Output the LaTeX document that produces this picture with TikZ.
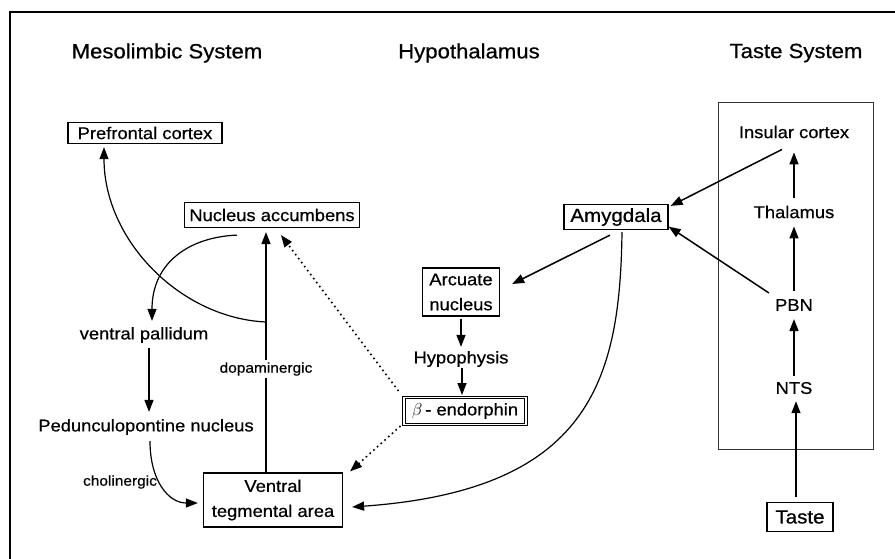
\documentclass[tikz,border=0pt]{standalone}
\usepackage{fontspec}
\setmainfont[FakeStretch=1.08, FakeBold=0.6]{Liberation Sans}
\usetikzlibrary{arrows.meta}
\begin{document}
\begin{tikzpicture}[x=1pt,y=-1pt,
  every node/.style={font=\fontsize{17}{20}\selectfont, inner sep=1pt},
  title/.style={font=\fontsize{20.5}{24}\selectfont},
  big/.style={font=\fontsize{19}{22}\selectfont},
  boxed/.style={draw, line width=1.2pt, inner sep=2pt},
  lbl/.style={font=\fontsize{14.3}{17}\selectfont},
  arr/.style={line width=1.5pt, -{Triangle[length=12pt,width=9pt]}},
  thinarr/.style={line width=1.2pt, -{Triangle[length=12pt,width=9pt]}},
  dotarr/.style={line width=1.6pt, dash pattern=on 1.6pt off 3.4pt, -{Triangle[length=12pt,width=9pt]}}
]
\useasboundingbox (0,0) rectangle (895,558);
\draw[line width=2.8pt] (10,560) -- (10,12) -- (897,12);

% titles
\node[title] (mt) at (167,53) {Mesolimbic System};
\node[title] (ht) at (469,53) {Hypothalamus};
\node[title] (tt) at (796,53) {Taste System};

% mesolimbic
\node[boxed, minimum width=154pt, minimum height=21pt] (pfc) at (145,133) {Prefrontal cortex};
\node[boxed, minimum width=175pt, minimum height=25pt] (nacc) at (272,215) {Nucleus accumbens};
\node (vp) at (144,335) {ventral pallidum};
\node (ppn) at (146,427) {Pedunculopontine nucleus};
\node[boxed, minimum width=139pt, minimum height=54pt, align=center] (vta) at (273,500) {Ventral\\[5pt]tegmental area};

% hypothalamus
\node[boxed, minimum width=77pt, minimum height=48pt, align=center] (arc) at (461,292) {Arcuate\\[5pt]nucleus};
\node (hyp) at (461,359) {Hypophysis};
\node[draw, line width=1pt, double, double distance=1.6pt, minimum width=122pt, minimum height=27pt] (beta) at (465,411) {$\beta$\,- endorphin};
\node[boxed, big, minimum width=104pt, minimum height=25pt] (amyg) at (616,217) {Amygdala};

% taste system
\draw[line width=0.9pt, black!80] (718,102) rectangle (873,449);
\node (ins) at (794,132) {Insular cortex};
\node (thal) at (794,212) {Thalamus};
\node (pbn) at (794,305) {PBN};
\node (nts) at (794,388) {NTS};
\node[boxed, big, minimum width=66pt, minimum height=29pt] (taste) at (800,517) {Taste};

% dopaminergic projection
\coordinate (dl) at (266,0);
\coordinate (br) at (266,322);
\draw[arr, shorten >=4pt] (vta.north -| dl) -- (nacc.south -| dl);
\node[lbl, fill=white, inner sep=2pt] (dop) at (266,369) {dopaminergic};
\draw[thinarr] (br) .. controls (180,318) and (104,240) .. ([xshift=-41pt,yshift=-3pt]pfc.south);

% NAcc -> ventral pallidum
\draw[thinarr] ([xshift=-35pt,yshift=-7pt]nacc.south) .. controls (190,237) and (152,262) .. ([xshift=8pt,yshift=5pt]vp.north);
% vp -> ppn
\draw[arr] ([xshift=5pt,yshift=-4pt]vp.south) -- ([xshift=3pt,yshift=6pt]ppn.north);
% ppn -> vta
\draw[thinarr] ([xshift=4pt,yshift=-5pt]ppn.south) .. controls (150,480) and (168,503) .. ([xshift=-5pt,yshift=-3pt]vta.west);
\node[lbl] (chol) at (120,482) {cholinergic};

% hypothalamus arrows
\draw[arr] ([yshift=-2pt]arc.south) -- ([yshift=3pt]hyp.north);
\draw[arr] ([xshift=1pt]hyp.south) -- ([xshift=-3pt,yshift=2pt]beta.north);
\draw[arr] ([xshift=-6pt,yshift=-5pt]amyg.south) -- ([xshift=12pt,yshift=8pt]arc.east);
\draw[dotarr] ([xshift=-5pt,yshift=6pt]beta.north west) -- ([xshift=9pt,yshift=-7pt]nacc.south);
\draw[dotarr] ([xshift=-3pt,yshift=-1pt]beta.south west) -- ([xshift=7pt,yshift=1pt]vta.north east);
\draw[thinarr] ([xshift=6pt,yshift=-2pt]amyg.south) .. controls (620,380) and (590,490) .. ([xshift=9pt,yshift=-7pt]vta.east);

% taste arrows
\draw[arr] ([xshift=-4pt,yshift=5pt]taste.north) -- ([xshift=2pt,yshift=-6pt]nts.south);
\draw[arr] ([yshift=5pt]nts.north) -- ([yshift=-7pt]pbn.south);
\draw[arr] ([yshift=7pt]pbn.north) -- ([yshift=-7pt]thal.south);
\draw[arr] ([yshift=7pt]thal.north) -- ([yshift=-13pt]ins.south);
\draw[arr] ([xshift=-12pt,yshift=-10pt]ins.south) -- ([xshift=2pt,yshift=-2pt]amyg.north east);
\draw[arr] ([xshift=-5pt,yshift=5pt]pbn.north west) -- ([yshift=3.5pt]amyg.south east);
\end{tikzpicture}
\end{document}
